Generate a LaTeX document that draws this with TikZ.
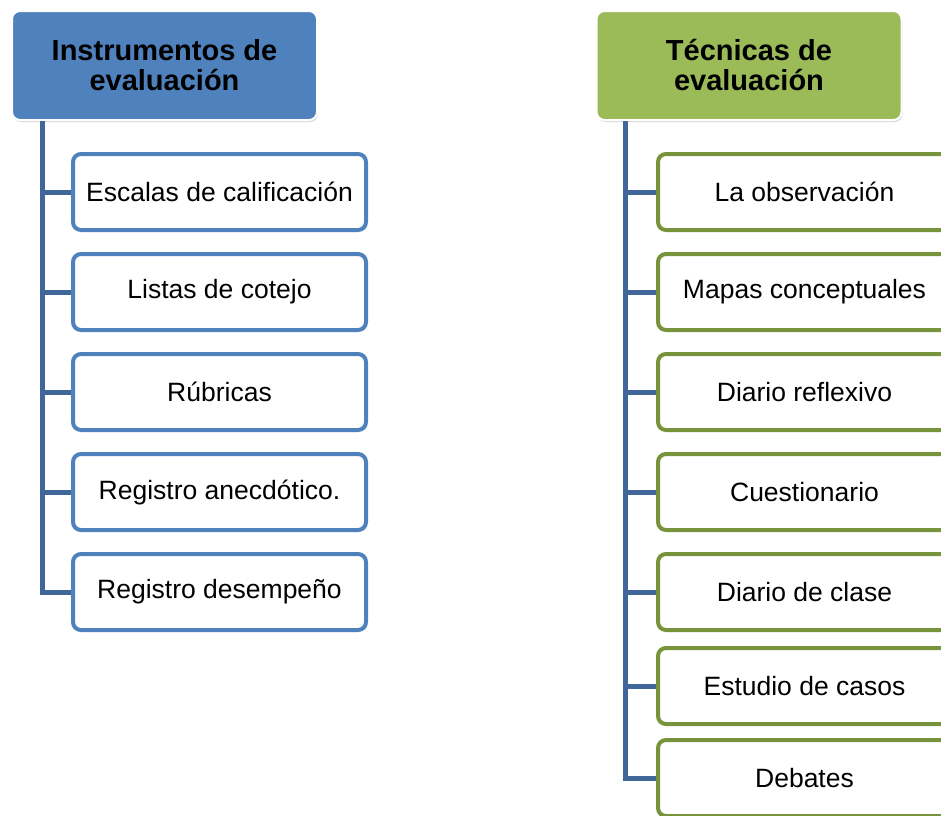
\documentclass[tikz,border=0pt]{standalone}
\usepackage{fontspec}
\setsansfont{Liberation Sans}
\usetikzlibrary{positioning}
\usetikzlibrary{shadows}
\definecolor{hblue}{HTML}{4F81BD}
\definecolor{hgreen}{HTML}{9BBB59}
\definecolor{dgreen}{HTML}{77933C}
\definecolor{stemblue}{HTML}{41669A}
\begin{document}
\begin{tikzpicture}[x=1pt, y=-1pt,
	node distance=100pt,
	head node/.style={rectangle,rounded corners=8pt,draw=white,line width=2pt,
		minimum width=305pt,minimum height=109pt,align=center,
		drop shadow={shadow xshift=1pt,shadow yshift=-2pt,opacity=0.3},
		font=\sffamily\fontsize{29}{30}\selectfont\bfseries},
	leaf node/.style={rectangle,rounded corners=8pt,fill=white,line width=4pt,
		minimum width=293pt,minimum height=76pt,
		font=\sffamily\fontsize{26.5}{30}\selectfont},
	stem/.style={stemblue,line width=5pt}]
	\clip (0,0) rectangle (941,815);
	\node[head node, fill=hblue] (h1) at (164.5,65.5) {Instrumentos de\\evaluación};
	\node[leaf node, draw=hblue] (i1) at (219.5,192) {Escalas de calificación};
	\node[leaf node, draw=hblue] (i2) [below of=i1] {Listas de cotejo};
	\node[leaf node, draw=hblue] (i3) [below of=i2] {Rúbricas};
	\node[leaf node, draw=hblue] (i4) [below of=i3] {Registro anecdótico.};
	\node[leaf node, draw=hblue] (i5) [below of=i4] {Registro desempeño};
	\node[head node, fill=hgreen] (h2) at (749,65.5) {Técnicas de\\evaluación};
	\node[leaf node, draw=dgreen] (t1) at (804.5,192) {La observación};
	\node[leaf node, draw=dgreen] (t2) [below of=t1] {Mapas conceptuales};
	\node[leaf node, draw=dgreen] (t3) [below of=t2] {Diario reflexivo};
	\node[leaf node, draw=dgreen] (t4) [below of=t3] {Cuestionario};
	\node[leaf node, draw=dgreen] (t5) [below of=t4] {Diario de clase};
	\node[leaf node, draw=dgreen] (t6) [below of=t5, yshift=6pt] {Estudio de casos};
	\node[leaf node, draw=dgreen] (t7) [below of=t6, yshift=8pt] {Debates};
	\coordinate (s1) at ([xshift=31pt]h1.south west);
	\coordinate (s2) at ([xshift=30pt]h2.south west);
	\draw[stem] (s1) |- (i5.west)
	(s1) |- (i1.west) (s1) |- (i2.west) (s1) |- (i3.west) (s1) |- (i4.west);
	\draw[stem] (s2) |- (t7.west)
	(s2) |- (t1.west) (s2) |- (t2.west) (s2) |- (t3.west)
	(s2) |- (t4.west) (s2) |- (t5.west) (s2) |- (t6.west);
\end{tikzpicture}
\end{document}
